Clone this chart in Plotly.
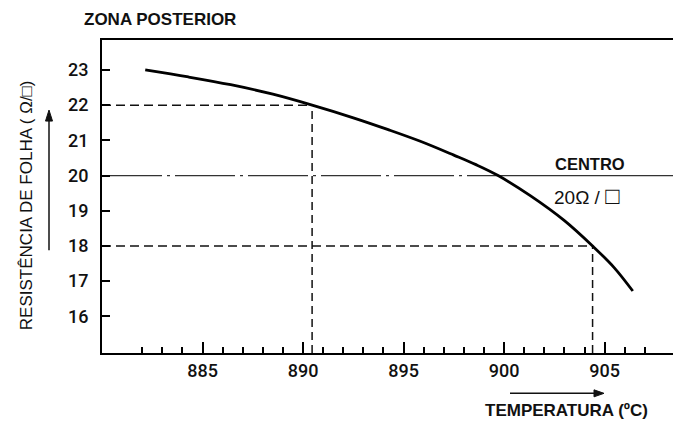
import plotly.graph_objects as go

# ---- data ----
temperature = [882.15, 884.3, 886.4, 888.5, 890.45, 892.5, 894.2, 895.8, 897.5, 898.6, 899.7, 901.3, 903.0, 904.4, 905.45, 906.4]
resistance = [23.0, 22.80, 22.58, 22.31, 22.0, 21.64, 21.31, 20.98, 20.58, 20.31, 20.0, 19.43, 18.72, 18.0, 17.4, 16.72]

guide_temps = [890.45, 904.4]
guide_res = [22, 18]

center_res = 20
center_cross = 899.7

x_range = [880, 908.4]
y_range = [14.96, 23.85]
x_major = [885, 890, 895, 900, 905]
x_minor = [t for t in range(882, 908) if t % 5 != 0]
y_ticks = [16, 17, 18, 19, 20, 21, 22, 23]

FONT = "Liberation Sans, Arial, sans-serif"
TICKFONT = "Roboto, Liberation Sans, Arial, sans-serif"

fig = go.Figure()

# guide lines (dashed)
for t, r in zip(guide_temps, guide_res):
    fig.add_trace(go.Scatter(x=[x_range[0], t], y=[r, r], mode="lines",
                             line=dict(color="#111", width=1.5, dash="9px,5px"),
                             hoverinfo="skip", showlegend=False))
    fig.add_trace(go.Scatter(x=[t, t], y=[y_range[0], r], mode="lines",
                             line=dict(color="#111", width=1.5, dash="8px,5px"),
                             hoverinfo="skip", showlegend=False))

# centre line: dash-dot left of curve, solid right
fig.add_trace(go.Scatter(x=[x_range[0], center_cross], y=[center_res, center_res], mode="lines",
                         line=dict(color="#333", width=1.2, dash="60px,5px,3px,5px"),
                         hoverinfo="skip", showlegend=False))
fig.add_trace(go.Scatter(x=[center_cross, x_range[1]], y=[center_res, center_res], mode="lines",
                         line=dict(color="#333", width=1.2),
                         hoverinfo="skip", showlegend=False))

# main curve
fig.add_trace(go.Scatter(x=temperature, y=resistance, mode="lines",
                         line=dict(color="#000", width=2.8, shape="spline", smoothing=1.0),
                         showlegend=False))

fig.update_layout(
    width=673, height=423,
    margin=dict(l=102, r=0, t=40, b=70),
    paper_bgcolor="white", plot_bgcolor="white",
    font=dict(family=FONT, color="#000"),
    xaxis=dict(range=x_range, tickmode="array", tickvals=x_major,
               ticktext=[str(v) for v in x_major],
               ticks="inside", ticklen=11, tickwidth=1.5, tickcolor="#000",
               showline=True, linecolor="#000", linewidth=2, mirror=True,
               showgrid=False, zeroline=False,
               tickfont=dict(size=18, family=TICKFONT, color="#111", weight=500),
               ticklabelstandoff=0,
               minor=dict(tickmode="array", tickvals=x_minor, ticks="inside",
                          ticklen=6, tickwidth=1.5, tickcolor="#000", showgrid=False)),
    yaxis=dict(range=y_range, tickmode="array", tickvals=y_ticks,
               ticks="inside", ticklen=8, tickwidth=1.5, tickcolor="#000",
               showline=True, linecolor="#000", linewidth=2,
               showgrid=False, zeroline=False,
               tickfont=dict(size=18, family=TICKFONT, color="#111", weight=500),
               ticklabelstandoff=8),
)

def py(pix):
    return 1 - (pix - 40) / 312.7

def px(pix):
    return (pix - 102) / 571

# texts
fig.add_annotation(xref="paper", yref="paper", x=px(82), y=py(20),
                   xanchor="left", yanchor="middle", showarrow=False,
                   text="<b>ZONA POSTERIOR</b>", font=dict(size=17, family=FONT, color="#111"))
fig.add_annotation(xref="paper", yref="paper", x=px(553), y=py(163.5),
                   xanchor="left", yanchor="middle", showarrow=False,
                   text="<b>CENTRO</b>", font=dict(size=16.5, family=FONT, color="#111"))
fig.add_annotation(xref="paper", yref="paper", x=px(552), y=py(195),
                   xanchor="left", yanchor="middle", showarrow=False,
                   text="20Ω / <span style='font-size:24px'>□</span>",
                   font=dict(size=19, family=FONT, color="#111"))
fig.add_annotation(xref="paper", yref="paper", x=px(483), y=py(410),
                   xanchor="left", yanchor="middle", showarrow=False,
                   text="<b>TEMPERATURA (ºC)</b>", font=dict(size=17, family=FONT, color="#111"))
fig.add_annotation(xref="paper", yref="paper", x=px(26), y=py(205),
                   xanchor="center", yanchor="middle", showarrow=False, textangle=-90,
                   text="RESISTÊNCIA DE FOLHA ( Ω/□)", font=dict(size=17, family=FONT, color="#111"))

# arrows drawn as shapes (paper coordinates)
def arrow_h(x0, x1, y, head=10, half=3.5):
    fig.add_shape(type="line", xref="paper", yref="paper",
                  x0=px(x0), x1=px(x1 - head + 1), y0=py(y), y1=py(y),
                  line=dict(color="#111", width=1.5))
    fig.add_shape(type="path", xref="paper", yref="paper",
                  path=f"M {px(x1)} {py(y)} L {px(x1 - head)} {py(y - half)} L {px(x1 - head)} {py(y + half)} Z",
                  fillcolor="#111", line=dict(color="#111", width=1))

def arrow_v(x, y0, y1, head=11, half=3.5):
    fig.add_shape(type="line", xref="paper", yref="paper",
                  x0=px(x), x1=px(x), y0=py(y0), y1=py(y1 + head - 1),
                  line=dict(color="#111", width=1.5))
    fig.add_shape(type="path", xref="paper", yref="paper",
                  path=f"M {px(x)} {py(y1)} L {px(x - half)} {py(y1 + head)} L {px(x + half)} {py(y1 + head)} Z",
                  fillcolor="#111", line=dict(color="#111", width=1))

arrow_h(510, 604, 393)
arrow_v(49, 250, 110)

fig.write_html("out.html")
